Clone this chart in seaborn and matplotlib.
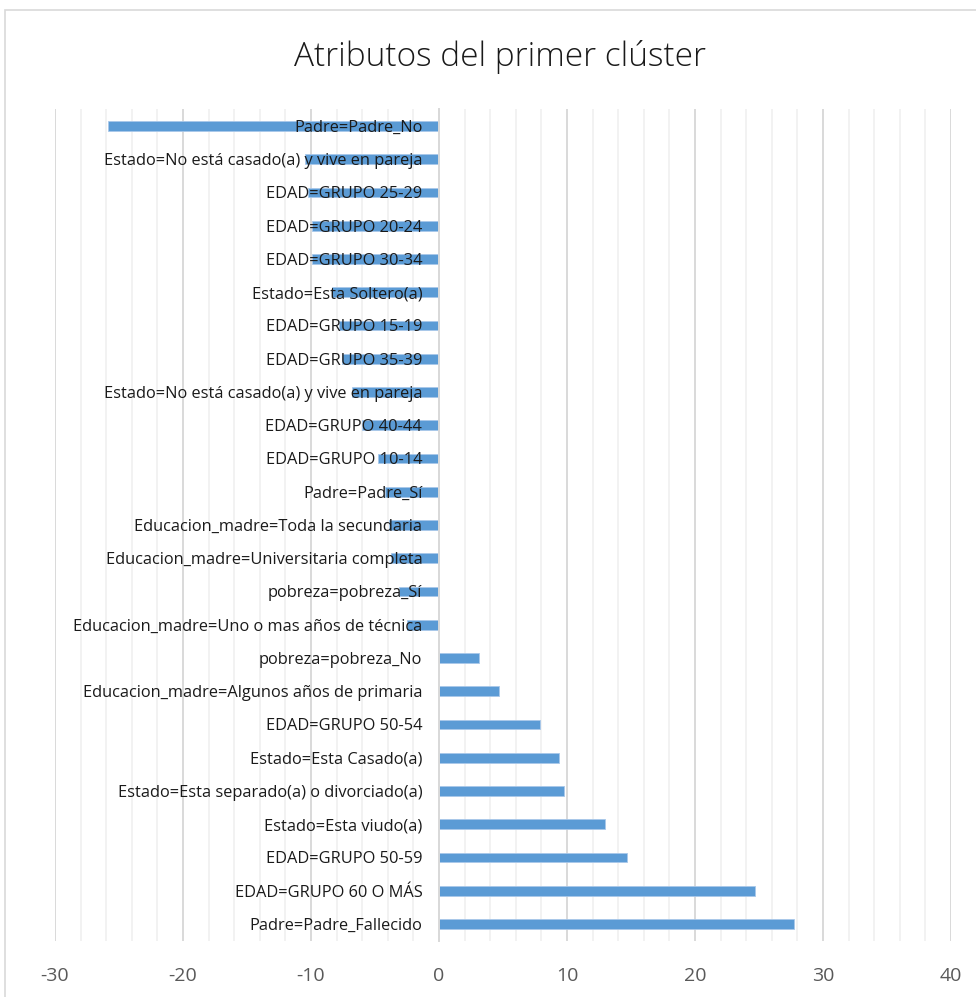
import pandas as pd
import matplotlib.pyplot as plt
import seaborn as sns
from matplotlib.patches import Rectangle

# Atributos y valores (de arriba hacia abajo)
atributos = [
    "Padre=Padre_No",
    "Estado=No está casado(a) y vive en pareja",
    "EDAD=GRUPO 25-29",
    "EDAD=GRUPO 20-24",
    "EDAD=GRUPO 30-34",
    "Estado=Esta Soltero(a)",
    "EDAD=GRUPO 15-19",
    "EDAD=GRUPO 35-39",
    "Estado=No está casado(a) y vive en pareja",
    "EDAD=GRUPO 40-44",
    "EDAD=GRUPO 10-14",
    "Padre=Padre_Sí",
    "Educacion_madre=Toda la secundaria",
    "Educacion_madre=Universitaria completa",
    "pobreza=pobreza_Sí",
    "Educacion_madre=Uno o mas años de técnica",
    "pobreza=pobreza_No",
    "Educacion_madre=Algunos años de primaria",
    "EDAD=GRUPO 50-54",
    "Estado=Esta Casado(a)",
    "Estado=Esta separado(a) o divorciado(a)",
    "Estado=Esta viudo(a)",
    "EDAD=GRUPO 50-59",
    "EDAD=GRUPO 60 O MÁS",
    "Padre=Padre_Fallecido",
]
valores = [-25.9, -10.5, -10.2, -9.95, -9.9, -8.4, -7.8, -7.6, -6.8, -6.0,
           -4.8, -4.2, -3.9, -3.75, -3.1, -2.5, 3.1, 4.65, 7.9, 9.35,
           9.8, 13.0, 14.7, 24.7, 27.7]
ticks_x = [-30, -20, -10, 0, 10, 20, 30, 40]
ticks_menores = list(range(-30, 41, 2))

df = pd.DataFrame({"atributo": atributos, "valor": valores})
df["orden"] = range(len(df))  # hay etiquetas repetidas

sns.set_theme(style="white")
plt.rcParams["font.family"] = ["Open Sans", "DejaVu Sans"]

fig = plt.figure(figsize=(9.76, 9.97), dpi=100)
ax = fig.add_axes([0.0564, 0.0566, 0.918, 0.8337])

# rejilla detras de las barras (las etiquetas van encima)
for t in ticks_menores:
    if t in ticks_x:
        ax.axvline(t, color="#D9D9D9", linewidth=1.4, zorder=0)
    else:
        ax.axvline(t, color="#F0F0F0", linewidth=1.2, zorder=0)

sns.barplot(data=df, x="valor", y="orden", orient="h", color="#5B9BD5",
            width=0.29, edgecolor="#A9C8EA", linewidth=0.6, saturation=1,
            ax=ax, zorder=1)
ax.set_axisbelow(False)

ax.set_xlim(-30, 40)
ax.set_ylim(len(df) - 0.5, -0.5)
ax.set_xticks(ticks_x)
ax.set_xticklabels([str(t) for t in ticks_x])
ax.tick_params(axis="x", which="both", length=0, pad=19, labelsize=14,
               labelcolor="#595959")

# eje vertical en cero con etiquetas junto al eje
for s in ["top", "right", "bottom"]:
    ax.spines[s].set_visible(False)
ax.spines["left"].set_position(("data", 0))
ax.spines["left"].set_color("#D9D9D9")
ax.spines["left"].set_linewidth(1.4)
ax.set_yticks(range(len(df)))
ax.set_yticklabels(atributos)
ax.set_yticks([i + 0.5 for i in range(-1, len(df))], minor=True)
ax.tick_params(axis="y", which="major", length=0, pad=12, labelsize=11.8,
               labelcolor="#1a1a1a")
ax.tick_params(axis="y", which="minor", length=5, width=1.2, color="#D9D9D9",
               direction="out")
ax.set_xlabel("")
ax.set_ylabel("")

fig.text(0.512, 0.943, "Atributos del primer clúster", ha="center",
         va="center", fontsize=24, fontweight="light", color="#1a1a1a")
fig.patches.append(Rectangle((5 / 976, -0.01), 1.0, 1 - 10 / 997 + 0.01,
                             transform=fig.transFigure, fill=False,
                             edgecolor="#D9D9D9", linewidth=1.2))

fig.savefig("out.png", dpi=100)
